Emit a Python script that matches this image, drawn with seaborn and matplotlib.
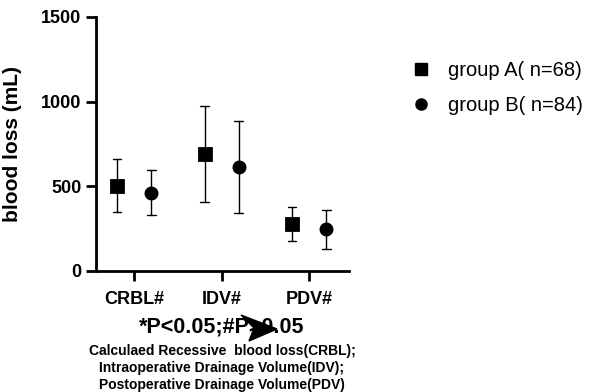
import numpy as np
import pandas as pd
import matplotlib
matplotlib.use("Agg")
import matplotlib.pyplot as plt
from matplotlib.lines import Line2D
from matplotlib.patches import Polygon
import seaborn as sns

categories = ["CRBL#", "IDV#", "PDV#"]
groups = ["group A( n=68)", "group B( n=84)"]
mean_a = [503, 688, 274]
low_a = [347, 406, 175]
high_a = [662, 976, 376]
mean_b = [461, 611, 245]
low_b = [331, 343, 128]
high_b = [595, 883, 359]

rows = []
for g, (m, lo, hi) in zip(groups, [(mean_a, low_a, high_a), (mean_b, low_b, high_b)]):
    for c, mv, lv, hv in zip(categories, m, lo, hi):
        for v in (lv, mv, hv):
            rows.append({"cat": c, "group": g, "value": v})
df = pd.DataFrame(rows)

sns.set_style("ticks")
plt.rcParams['font.family'] = ['Liberation Sans', 'DejaVu Sans']
for k in ["text.color", "axes.labelcolor", "xtick.color", "ytick.color", "axes.edgecolor"]:
    plt.rcParams[k] = "black"

W, H = 604, 392
fig = plt.figure(figsize=(W / 100, H / 100), dpi=100)
ax = fig.add_axes([96 / W, 1 - 270.7 / H, (349 - 96) / W, (270.7 - 17) / H])

sns.pointplot(data=df, x="cat", y="value", hue="group", order=categories,
              hue_order=groups, estimator=np.median,
              errorbar=lambda x: (x.min(), x.max()),
              dodge=0.39, markers=["s", "o"], linestyle="none",
              palette=["black", "black"], capsize=0.1, markersize=8,
              err_kws={"linewidth": 1.0}, legend=False, ax=ax)

ax.set_xlim(-0.435, 2.455)
ax.set_ylim(0, 1500)
ax.set_yticks([0, 500, 1000, 1500])
ax.set_xlabel("")
ax.set_ylabel("blood loss (mL)", fontsize=15, fontweight="bold")
ax.yaxis.set_label_coords(-0.292, 0.5)
for s in ["top", "right"]:
    ax.spines[s].set_visible(False)
for s in ["left", "bottom"]:
    ax.spines[s].set_linewidth(2)
ax.tick_params(axis="both", width=2, length=7.5, labelsize=13)
ax.tick_params(axis="y", pad=3)
ax.tick_params(axis="x", pad=7)
for lab in ax.get_yticklabels() + ax.get_xticklabels():
    lab.set_fontweight("bold")

handles = [Line2D([], [], marker="s", color="black", linestyle="none", markersize=8),
           Line2D([], [], marker="o", color="black", linestyle="none", markersize=8)]
fig.legend(handles, groups, loc="center left", bbox_to_anchor=(411 / W, 1 - 88 / H),
           frameon=False, labelspacing=0.75, handlelength=1.0, handletextpad=0.85,
           borderpad=0, borderaxespad=0,
           prop={"family": ["Liberation Sans", "DejaVu Sans"], "size": 14.5})

cx = 222 / W
fig.text(cx, 1 - 327 / H, "*P<0.05;#P>0.05", ha="center", va="center",
         fontsize=15.5, fontweight="bold")
arrow_px = [(241, 315), (277, 329), (249, 341), (254, 328)]
fig.add_artist(Polygon([(x / W, 1 - y / H) for x, y in arrow_px], closed=True,
                       facecolor="black", edgecolor="black",
                       transform=fig.transFigure))
fig.text(cx, 1 - 368 / H, "Calculaed Recessive  blood loss(CRBL);\nIntraoperative Drainage Volume(IDV);\nPostoperative Drainage Volume(PDV)",
         ha="center", va="center", fontsize=10, fontweight="bold", linespacing=1.3,
         multialignment="center")

fig.savefig("out.png", dpi=100)
